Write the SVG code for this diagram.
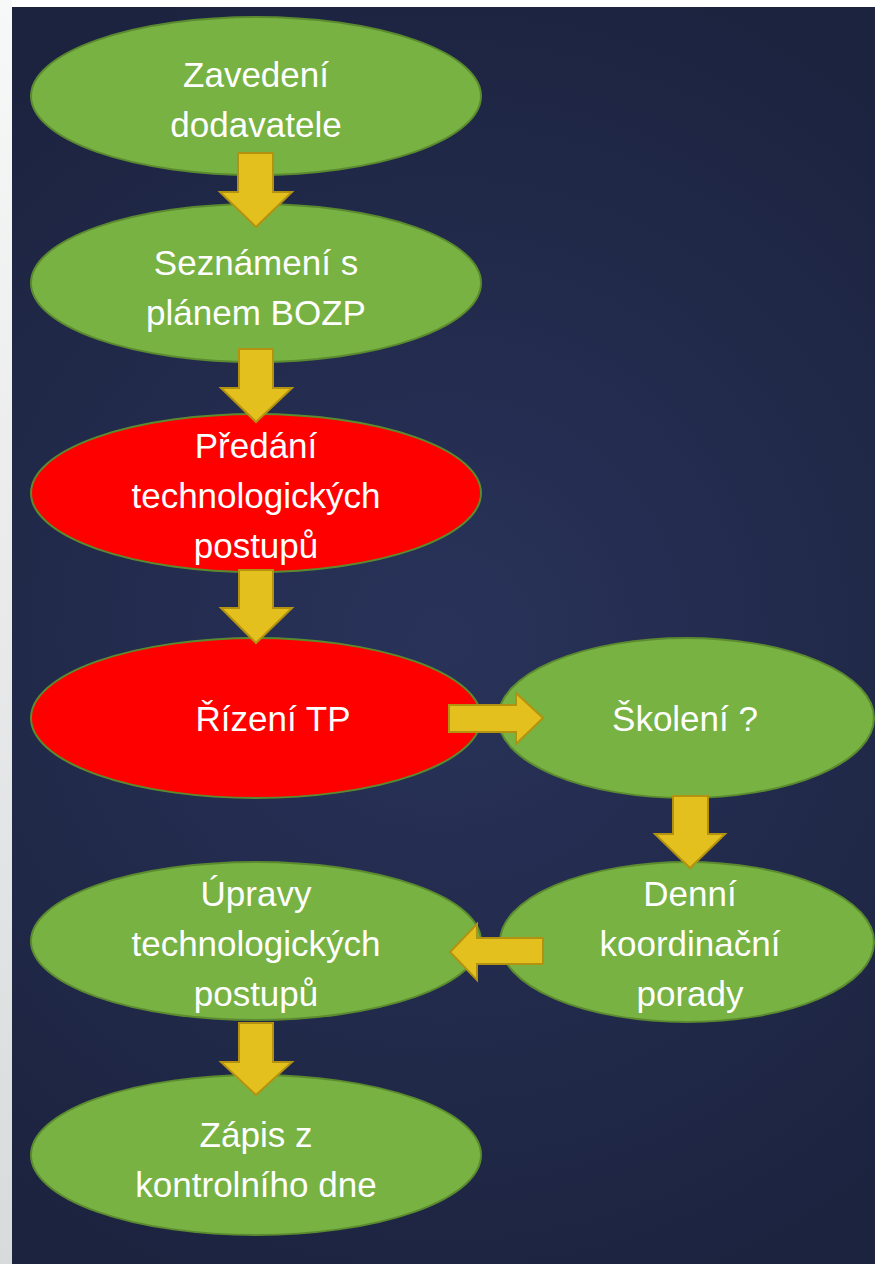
<svg xmlns="http://www.w3.org/2000/svg" width="875" height="1264" viewBox="0 0 875 1264">
<defs>
<radialGradient id="bg" cx="440" cy="640" r="700" gradientUnits="userSpaceOnUse">
<stop offset="0" stop-color="#29335a"/>
<stop offset="1" stop-color="#1c233f"/>
</radialGradient>
<linearGradient id="strip" x1="0" y1="0" x2="0" y2="1">
<stop offset="0" stop-color="#f7f8f8"/>
<stop offset="1" stop-color="#d8dbdc"/>
</linearGradient>
<style>
.g{fill:#77b243;stroke:#5b8a2f;stroke-width:2}
.r{fill:#ff0000;stroke:#5b8a2f;stroke-width:2}
.a{fill:#e3c01e;stroke:#b3920f;stroke-width:2;stroke-linejoin:miter}
.t{font-family:"Liberation Sans",Arial,sans-serif;font-size:35px;fill:#ffffff;text-anchor:middle}
</style>
</defs>
<rect x="0" y="0" width="875" height="1264" fill="#ffffff"/>
<rect x="0" y="0" width="12" height="1264" fill="url(#strip)"/>
<rect x="12" y="7" width="863" height="1257" fill="url(#bg)"/>

<g id="n1"><ellipse class="g" cx="256" cy="96" rx="225" ry="79"/>
<text class="t" x="256" y="87">Zavedení</text><text class="t" x="256" y="137">dodavatele</text></g>

<g id="n2"><ellipse class="g" cx="256" cy="283" rx="225" ry="79"/>
<text class="t" x="256" y="275">Seznámení s</text><text class="t" x="256" y="325">plánem BOZP</text></g>

<g id="n3"><ellipse class="r" cx="256" cy="493" rx="225" ry="79"/>
<text class="t" x="256" y="458">Předání</text><text class="t" x="256" y="508">technologických</text><text class="t" x="256" y="558">postupů</text></g>

<g id="n4"><ellipse class="r" cx="256" cy="718" rx="225" ry="80"/>
<text class="t" x="273" y="731">Řízení TP</text></g>

<g id="n5"><ellipse class="g" cx="686" cy="718" rx="188" ry="80"/>
<text class="t" x="685" y="731">Školení ?</text></g>

<g id="n6"><ellipse class="g" cx="687" cy="942" rx="187" ry="80"/>
<text class="t" x="690" y="906">Denní</text><text class="t" x="690" y="956">koordinační</text><text class="t" x="690" y="1006">porady</text></g>

<g id="n7"><ellipse class="g" cx="256" cy="941" rx="225" ry="79"/>
<text class="t" x="256" y="906">Úpravy</text><text class="t" x="256" y="956">technologických</text><text class="t" x="256" y="1006">postupů</text></g>

<g id="n8"><ellipse class="g" cx="256" cy="1155" rx="225" ry="80"/>
<text class="t" x="256" y="1147">Zápis z</text><text class="t" x="256" y="1197">kontrolního dne</text></g>

<g id="connectors">
<path class="a" d="M238,153 H273 V192 H292 L256,227 L220,192 H238 Z"/>
<path class="a" d="M239,349 H273 V388 H292 L256,422 L221,388 H239 Z"/>
<path class="a" d="M239,570 H273 V608 H292 L256,643 L221,608 H239 Z"/>
<path class="a" d="M449,705 H516 V693 L543,718 L516,744 V732 H449 Z"/>
<path class="a" d="M673,796 H708 V834 H725 L690,868 L655,834 H673 Z"/>
<path class="a" d="M543,938 H477 V924 L450,952 L477,980 V964 H543 Z"/>
<path class="a" d="M239,1023 H273 V1062 H292 L256,1095 L221,1062 H239 Z"/>
</g>
</svg>
